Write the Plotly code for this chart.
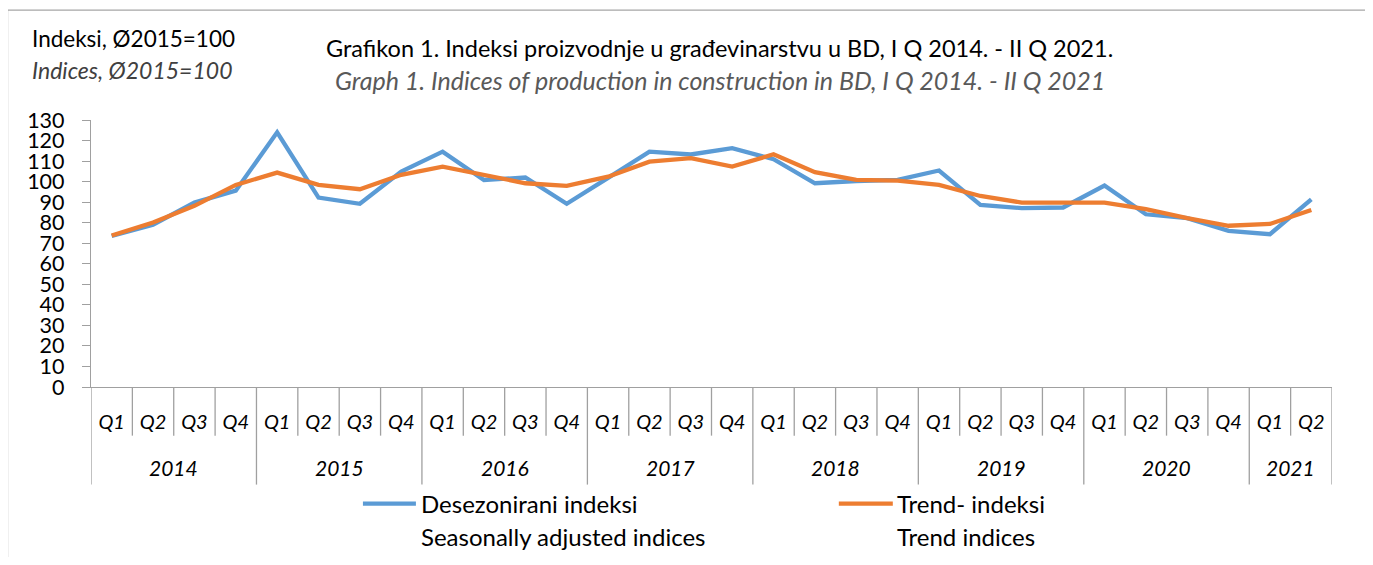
import plotly.graph_objects as go

years = ["2014", "2015", "2016", "2017", "2018", "2019", "2020", "2021"]
quarters_per_year = [4, 4, 4, 4, 4, 4, 4, 2]
quarter_names = ["Q1", "Q2", "Q3", "Q4"]

seasonally_adjusted = [73.5, 79.0, 89.8, 95.6, 124.0, 92.2, 89.2, 104.9,
                       114.6, 100.8, 102.0, 89.2, 101.8, 114.6, 113.2, 116.3,
                       110.9, 99.2, 100.3, 100.8, 105.4, 88.7, 87.1, 87.4,
                       98.1, 84.1, 82.2, 76.0, 74.4, 91.4]
trend = [73.8, 80.1, 88.2, 98.4, 104.4, 98.4, 96.3, 103.3,
         107.3, 103.3, 99.2, 97.9, 102.4, 109.7, 111.4, 107.3,
         113.3, 104.6, 100.8, 100.5, 98.4, 93.0, 89.8, 89.8,
         89.8, 86.6, 82.2, 78.5, 79.4, 86.2]

name_blue_hr = "Desezonirani indeksi"
name_blue_en = "Seasonally adjusted indices"
name_orange_hr = "Trend- indeksi"
name_orange_en = "Trend indices"

title_hr = "Grafikon 1. Indeksi proizvodnje u građevinarstvu u BD, I Q 2014. - II Q 2021."
title_en = "Graph 1. Indices of production in construction in BD, I Q 2014. - II Q 2021"
ylab_hr = "Indeksi, Ø2015=100"
ylab_en = "Indices, Ø2015=100"

# build category positions
qlabels = []
for y, n in zip(years, quarters_per_year):
    for q in range(n):
        qlabels.append(quarter_names[q])
xs = list(range(len(qlabels)))

# page offset (default body margin) and figure geometry in figure pixels
OFF = 8
W, H = 1357, 549
L = 91 - OFF
T = 120 - OFF
PLOT_RIGHT = 1332.3 - OFF
PLOT_BOTTOM = 387.3 - OFF
R = W - PLOT_RIGHT
B = H - PLOT_BOTTOM
PW = PLOT_RIGHT - L
PH = PLOT_BOTTOM - T

def px(xw):
    return (xw - OFF - L) / PW

def py(yw):
    return (PLOT_BOTTOM - (yw - OFF)) / PH

FONT = "Lato"
BLUE = "#5B9BD5"
ORANGE = "#ED7D31"
AXIS = "#A0A0A0"

fig = go.Figure()
fig.add_trace(go.Scatter(x=xs, y=seasonally_adjusted, mode="lines",
                         line=dict(color=BLUE, width=4.3), name=name_blue_hr,
                         showlegend=False))
fig.add_trace(go.Scatter(x=xs, y=trend, mode="lines",
                         line=dict(color=ORANGE, width=4.3), name=name_orange_hr,
                         showlegend=False))

shapes = []
year_bounds = set()
acc = 0
year_centers = []
for n in quarters_per_year:
    year_bounds.add(acc)
    year_centers.append(acc + (n - 1) / 2)
    acc += n
year_bounds.add(acc)
for b in range(len(xs) + 1):
    long = b in year_bounds
    shapes.append(dict(type="line", xref="x", yref="paper",
                       x0=b - 0.5, x1=b - 0.5, y0=0, y1=py(485 if long else 436),
                       line=dict(color=AXIS, width=1.3), layer="above"))

# outer border (only top/left visible)
shapes.append(dict(type="rect", xref="paper", yref="paper",
                   x0=px(7.5), x1=px(1400), y0=py(10), y1=py(620),
                   line=dict(color="#A6A6A6", width=1.3), fillcolor="rgba(0,0,0,0)"))

# legend samples
shapes.append(dict(type="line", xref="paper", yref="paper",
                   x0=px(363), x1=px(416), y0=py(504), y1=py(504),
                   line=dict(color=BLUE, width=4.3)))
shapes.append(dict(type="line", xref="paper", yref="paper",
                   x0=px(839), x1=px(893), y0=py(504), y1=py(504),
                   line=dict(color=ORANGE, width=4.3)))

annotations = []
for yname, xc in zip(years, year_centers):
    annotations.append(dict(x=xc, y=py(468), xref="x", yref="paper",
                            text=yname, showarrow=False, xanchor="center", yanchor="middle",
                            font=dict(family=FONT, size=21, color="#000", style="italic")))

def add_text(text, x, y, size, color="#000", italic=False, anchor="left"):
    annotations.append(dict(x=px(x), y=py(y), xref="paper", yref="paper", text=text,
                            showarrow=False, xanchor=anchor, yanchor="middle",
                            font=dict(family=FONT, size=size, color=color,
                                      style="italic" if italic else "normal")))

add_text(ylab_hr, 30, 38, 22.5)
add_text(ylab_en, 30, 70, 23, "#404040", True)
add_text(title_hr, 720, 48, 23.5, anchor="center")
add_text(title_en, 720, 80, 25, "#595959", True, anchor="center")
add_text(name_blue_hr, 419, 504, 24)
add_text(name_blue_en, 419, 537, 24)
add_text(name_orange_hr, 895, 504, 24)
add_text(name_orange_en, 895, 537, 24)

fig.update_layout(
    width=W, height=H,
    margin=dict(l=L, r=R, t=T, b=B, pad=0, autoexpand=False),
    paper_bgcolor="white", plot_bgcolor="white",
    font=dict(family=FONT, color="#000"),
    showlegend=False,
    shapes=shapes,
    annotations=annotations,
    xaxis=dict(range=[-0.5, len(xs) - 0.5], tickmode="array", tickvals=xs, ticktext=qlabels,
               showline=True, linecolor=AXIS, linewidth=1.3, ticks="", showgrid=False,
               zeroline=False, tickfont=dict(family=FONT, size=20, style="italic"),
               ticklabelstandoff=17, fixedrange=True),
    yaxis=dict(range=[0, 130], dtick=10, tick0=0, showline=True, linecolor=AXIS, linewidth=1.3,
               ticks="outside", ticklen=8, tickcolor=AXIS, tickwidth=1.3, showgrid=False,
               zeroline=False, tickfont=dict(family=FONT, size=21.5), ticklabelstandoff=13,
               fixedrange=True),
)

fig.write_html("out.html")
